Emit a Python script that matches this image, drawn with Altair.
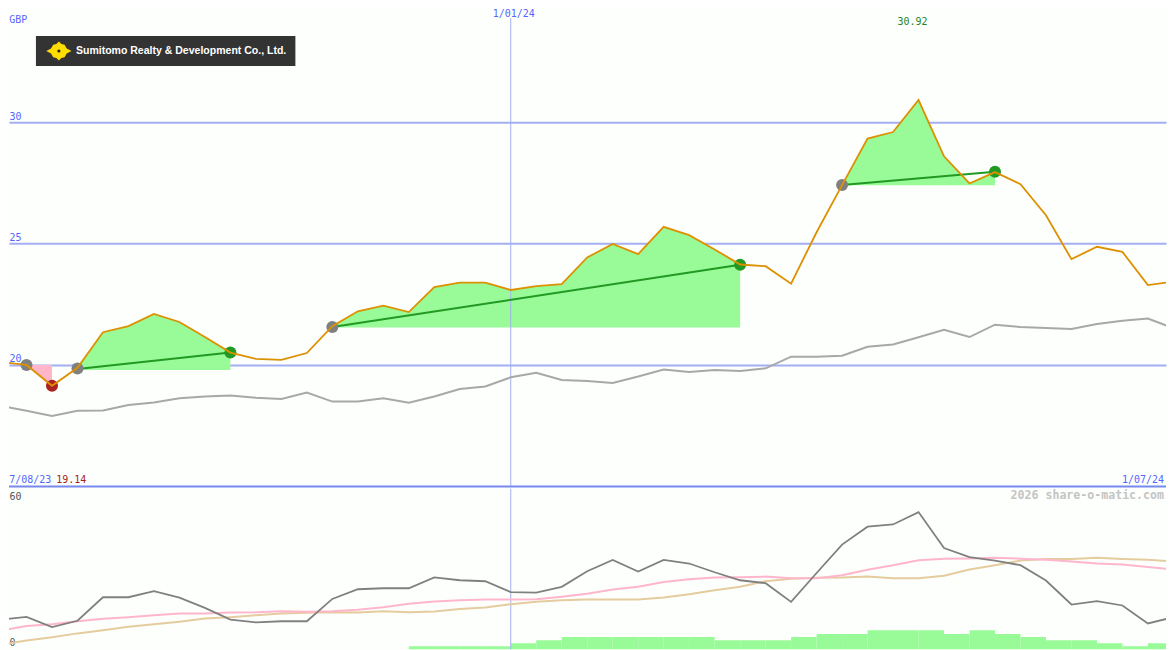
import altair as alt
import pandas as pd

MONO = "DejaVu Sans Mono"
BG = "#fdfffd"

price = [20.12,20.00,19.14,19.88,21.35,21.60,22.10,21.77,21.15,20.51,20.25,20.21,20.49,21.60,22.21,22.44,22.18,23.21,23.39,23.39,23.09,23.25,23.33,24.43,24.99,24.57,25.69,25.35,24.76,24.14,24.07,23.35,25.47,27.41,29.33,29.60,30.92,28.60,27.48,27.95,27.45,26.17,24.36,24.87,24.66,23.29,23.43]
relative = [18.31,18.11,17.90,18.11,18.12,18.35,18.45,18.63,18.70,18.74,18.65,18.60,18.86,18.49,18.49,18.63,18.44,18.70,19.01,19.11,19.49,19.68,19.38,19.34,19.26,19.52,19.81,19.71,19.79,19.75,19.86,20.34,20.34,20.38,20.75,20.84,21.14,21.45,21.15,21.66,21.56,21.52,21.48,21.69,21.82,21.91,21.52]
osc = [11.5,12.6,8.4,11.0,20.7,20.7,23.2,20.5,16.3,11.5,10.3,10.8,10.8,20.0,24.0,24.4,24.4,28.9,27.7,27.3,22.8,22.6,25.0,31.4,36.1,31.3,36.1,34.6,31.0,27.7,26.5,18.8,30.7,42.4,49.8,50.7,55.8,41.0,37.2,35.8,33.9,27.6,17.7,19.1,17.3,9.9,12.5]
pink_ma = [7.0,8.8,9.6,10.8,11.8,12.5,13.3,14.0,14.0,14.4,14.5,14.9,14.7,14.9,15.5,16.6,18.0,18.9,19.5,19.8,19.8,19.9,20.9,22.1,23.9,25.0,27.0,28.1,28.8,28.9,29.2,28.5,28.5,29.8,32.0,33.9,35.9,36.6,36.7,37.0,36.6,36.2,35.4,34.6,34.2,33.2,32.1]
tan_ma = [1.2,2.9,4.2,5.8,7.1,8.5,9.6,10.6,11.9,12.5,13.3,14.0,14.3,14.5,14.4,14.9,14.5,14.8,15.9,16.5,17.8,18.8,19.5,19.8,19.8,19.8,20.6,21.9,23.6,25.0,27.3,28.3,28.7,28.8,29.2,28.5,28.5,29.6,32.1,33.9,35.8,36.5,36.5,37.0,36.5,36.2,35.4]

vol_start = list(range(16, 46))
volume = [1,1,1,1,2,3,4,4,4,4,4,4,3,3,3,4,5,5,6.2,6.2,6.2,5,6.2,5,4,3,3,2,1,2]

# trades: start index, end index, level of the shaded base, start/end of the trade line
gain_zones = [(3, 9, 19.79, 19.83, 20.51), (13, 29, 21.54, 21.56, 24.13), (33, 39, 27.41, 27.42, 27.96)]
loss_zones = [(1, 2, 20.0)]
entry_x = [1, 3, 13, 33]
entry_y = [20.0, 19.85, 21.56, 27.42]
win_x = [9, 29, 39]
win_y = [20.51, 24.13, 27.96]
loss_x = [2]
loss_y = [19.14]

x_dom = [0.313, 45.71]
y_dom = [14.98, 34.69]
u_dom = [-0.82, 65.43]
v_dom = [0, 51.9]

df = pd.DataFrame({"i": range(len(price)), "price": price, "relative": relative,
                   "osc": osc, "pink": pink_ma, "tan": tan_ma})
X = alt.X("i:Q", scale=alt.Scale(domain=x_dom, nice=False, zero=False), axis=None)

grid_axis = alt.Axis(values=[20, 25, 30], grid=True, gridColor="#a4aef2", gridWidth=2, domain=False, ticks=False,
                     tickSize=0, labelAlign="left", labelBaseline="bottom", labelPadding=0, labelFont=MONO,
                     labelFontSize=10, labelColor="#5566ff", title=None, labelOffset=-1)
def Yp(f, axis=grid_axis):
    return alt.Y(f, type="quantitative", scale=alt.Scale(domain=y_dom, nice=False, zero=False), axis=axis, title=None)
def Yu(f, axis=None):
    return alt.Y(f, type="quantitative", scale=alt.Scale(domain=u_dom, nice=False, zero=False), axis=axis, title=None)

zone_rows, seg_rows = [], []
for z, (a, b, base, s0, s1) in enumerate(gain_zones):
    for i in range(a, b + 1):
        zone_rows.append({"z": z, "i": i, "p": price[i], "b": base})
    seg_rows += [{"z": z, "i": a, "p": s0}, {"z": z, "i": b, "p": s1}]
zones = pd.DataFrame(zone_rows)
segs = pd.DataFrame(seg_rows)
loss_rows = [{"i": i, "p": price[i], "b": b0} for a, b, b0 in loss_zones for i in range(a, b + 1)]

def text_layer(rows, color, align="left", size=10, weight="normal", font=MONO, yf=Yp, dx=0):
    d = pd.DataFrame(rows, columns=["i", "v", "t"])
    return alt.Chart(d).mark_text(font=font, fontSize=size, color=color, align=align, baseline="middle",
                                  fontWeight=weight, dx=dx).encode(x=X, y=yf("v"), text="t:N")

vrule_top = alt.Chart(pd.DataFrame({"i": [20], "y": [34.3], "y2": [14.98]})).mark_rule(color="#a4aef2", strokeWidth=1).encode(x=X, y=Yp("y"), y2="y2")
bottom_rule = alt.Chart(pd.DataFrame({"y": [14.985]})).mark_rule(color="#7788ee", strokeWidth=2).encode(y=Yp("y"))
area_g = alt.Chart(zones).mark_area(color="#98fb98", opacity=1, interpolate="linear").encode(x=X, y=Yp("p"), y2="b", detail="z:N")
area_r = alt.Chart(pd.DataFrame(loss_rows)).mark_area(color="#ffb6c8", opacity=1).encode(x=X, y=Yp("p"), y2="b")
rel_line = alt.Chart(df).mark_line(color="#a8a8a8", strokeWidth=2, clip=True).encode(x=X, y=Yp("relative"))
seg_line = alt.Chart(segs).mark_line(color="#229922", strokeWidth=2).encode(x=X, y=Yp("p"), detail="z:N")
def dots(xs, ys, color):
    return alt.Chart(pd.DataFrame({"i": xs, "p": ys})).mark_point(filled=True, opacity=1, color=color, size=145).encode(x=X, y=Yp("p"))
price_line = alt.Chart(df).mark_line(color="#dd9000", strokeWidth=1.8, clip=True).encode(x=X, y=Yp("price"))

logo_rect = alt.Chart(pd.DataFrame({"a": [1.37], "b": [11.55], "y": [33.56], "y2": [32.32]})).mark_rect(color="#333333").encode(
    x=alt.X("a:Q", scale=alt.Scale(domain=x_dom, nice=False, zero=False), axis=None), x2="b", y=Yp("y"), y2="y2")
logo_shape = "M-1,0L-.62,-.2L-.45,-.5L-.2,-.55L0,-.75L.2,-.55L.45,-.5L.62,-.2L1,0L.62,.2L.45,.5L.2,.55L0,.75L-.2,.55L-.45,.5L-.62,.2Z"
logo_mark = alt.Chart(pd.DataFrame({"i": [2.27], "p": [32.94]})).mark_point(filled=True, opacity=1, color="#ffdd00", shape=logo_shape, size=640).encode(x=X, y=Yp("p"))
logo_dot = alt.Chart(pd.DataFrame({"i": [2.27], "p": [32.94]})).mark_point(filled=True, opacity=1, color="#222222", size=10).encode(x=X, y=Yp("p"))
logo_text = text_layer([[2.94, 32.94, "Sumitomo Realty & Development Co., Ltd."]], "#ffffff", size=10.55, weight="bold", font="Liberation Sans")

top = alt.layer(
    area_r, area_g, vrule_top, bottom_rule, rel_line, seg_line,
    dots(entry_x, entry_y, "#808080"), dots(win_x, win_y, "#229922"), dots(loss_x, loss_y, "#aa2222"),
    price_line, logo_rect, logo_mark, logo_dot, logo_text,
    text_layer([[0.32, 34.2, "GBP"], [0.32, 15.27, "7/08/23"]], "#5566ff"),
    text_layer([[2.17, 15.27, "19.14"]], "#aa2222"),
    text_layer([[36, 34.13, "30.92"]], "#228822", align="center", dx=-6),
    text_layer([[20, 34.45, "1/01/24"]], "#5566ff", align="center", dx=3),
    text_layer([[45.63, 15.27, "1/07/24"]], "#5566ff", align="right"),
).properties(width=1159, height=479)

u_axis = alt.Axis(values=[0, 60], grid=False, domain=False, ticks=False, tickSize=0, labelAlign="left",
                  labelBaseline="bottom", labelPadding=0, labelFont=MONO, labelFontSize=10, labelColor="#555555",
                  title=None, labelOffset=0)
vol_df = pd.DataFrame({"i": vol_start, "i2": [s + 1 for s in vol_start], "v": volume, "v0": [0] * len(volume)})
bars = alt.Chart(vol_df).mark_rect(color="#98fb98", clip=True).encode(
    x=X, x2="i2", y=alt.Y("v:Q", scale=alt.Scale(domain=v_dom, nice=False, zero=False), axis=None), y2="v0")
vrule_bot = alt.Chart(pd.DataFrame({"i": [20], "y": [65.43], "y2": [-0.82]})).mark_rule(color="#a4aef2", strokeWidth=1).encode(x=X, y=Yu("y"), y2="y2")
osc_line = alt.Chart(df).mark_line(color="#808080", strokeWidth=1.8, clip=True).encode(x=X, y=Yu("osc"))
pink_line = alt.Chart(df).mark_line(color="#ffb6cc", strokeWidth=2, clip=True).encode(x=X, y=Yu("pink"))
tan_line = alt.Chart(df).mark_line(color="#e5cc9f", strokeWidth=2, clip=True).encode(x=X, y=Yu("tan"))
u_base = alt.Chart(df).mark_line(opacity=0, clip=True).encode(x=X, y=Yu("osc", u_axis))
mark_text = text_layer([[45.63, 62.55, "2026 share-o-matic.com"]], "#c4c4c4", align="right", size=11.6, weight="bold", yf=Yu)

bottom = alt.layer(u_base, bars, vrule_bot, tan_line, pink_line, osc_line, mark_text).resolve_scale(y="independent").properties(width=1159, height=161)

chart = alt.vconcat(top, bottom, spacing=0).properties(background=BG, padding=0).configure_view(stroke=None)
chart.save("out.html", embed_options={"renderer": "svg", "actions": False})
